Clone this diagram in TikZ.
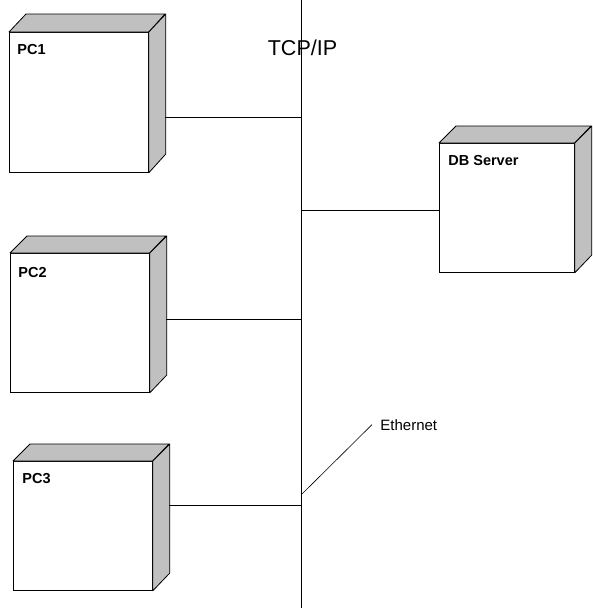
\documentclass[tikz,border=0pt]{standalone}
\usepackage{fontspec}
\setmainfont{Liberation Sans}
\definecolor{boxgray}{RGB}{192,192,192}
\begin{document}
\begin{tikzpicture}[x=1pt,y=-1pt,line width=0.8pt,
  front/.style={draw,fill=white,minimum width=139pt,anchor=north west,inner sep=0pt},
  face/.style={draw,fill=boxgray,line join=round},
  devlabel/.style={font=\bfseries\fontsize{14.5}{16}\selectfont,anchor=base west,inner sep=0pt}]
\useasboundingbox (0,0) rectangle (592,608);
% the network bus
\node[font=\fontsize{21.5}{24}\selectfont,anchor=base,inner sep=0pt] (tcpip) at (302.5,55) {TCP/IP};
\coordinate (bustop) at (301,0);
\coordinate (busbot) at (301,608);
\draw (bustop) -- (busbot);
% PC1
\node[front,minimum height=140pt] (pc1) at (9,32) {};
\draw[face] (pc1.north west) -- ++(17,-18) -- ++(139,0) -- (pc1.north east) -- cycle;
\draw[face] (pc1.north east) -- ++(17,-18) -- ++(0,140) -- (pc1.south east) -- cycle;
\node[devlabel] (pc1lbl) at ([shift={(8,22)}]pc1.north west) {PC1};
% PC2
\node[front,minimum height=139pt] (pc2) at (10,253) {};
\draw[face] (pc2.north west) -- ++(17,-17) -- ++(139,0) -- (pc2.north east) -- cycle;
\draw[face] (pc2.north east) -- ++(17,-17) -- ++(0,139) -- (pc2.south east) -- cycle;
\node[devlabel] (pc2lbl) at ([shift={(8,24)}]pc2.north west) {PC2};
% PC3
\node[front,minimum height=129pt] (pc3) at (13,461) {};
\draw[face] (pc3.north west) -- ++(17,-17) -- ++(139,0) -- (pc3.north east) -- cycle;
\draw[face] (pc3.north east) -- ++(17,-17) -- ++(0,129) -- (pc3.south east) -- cycle;
\node[devlabel] (pc3lbl) at ([shift={(9,22)}]pc3.north west) {PC3};
% DB Server
\node[front,minimum width=135pt,minimum height=129pt] (db) at (439,143) {};
\draw[face] (db.north west) -- ++(17,-17) -- ++(135,0) -- (db.north east) -- cycle;
\draw[face] (db.north east) -- ++(17,-17) -- ++(0,129) -- (db.south east) -- cycle;
\node[devlabel] (dblbl) at ([shift={(9,22)}]db.north west) {DB Server};
% links to the bus
\coordinate (pc1port) at (165,117);
\coordinate (pc2port) at (166,319);
\coordinate (pc3port) at (169,505);
\coordinate (dbport) at ([yshift=-2.5pt]db.west);
\draw (pc1port) -- (pc1port -| bustop);
\draw (pc2port) -- (pc2port -| bustop);
\draw (pc3port) -- (pc3port -| bustop);
\draw (dbport) -- (dbport -| bustop);
% Ethernet note
\node[font=\fontsize{15}{17}\selectfont,anchor=base west,inner sep=0pt] (eth) at (380,430) {Ethernet};
\coordinate (ethfoot) at (302,494);
\draw[line width=0.6pt] ([xshift=-8pt]eth.west) -- (ethfoot);
\end{tikzpicture}
\end{document}
